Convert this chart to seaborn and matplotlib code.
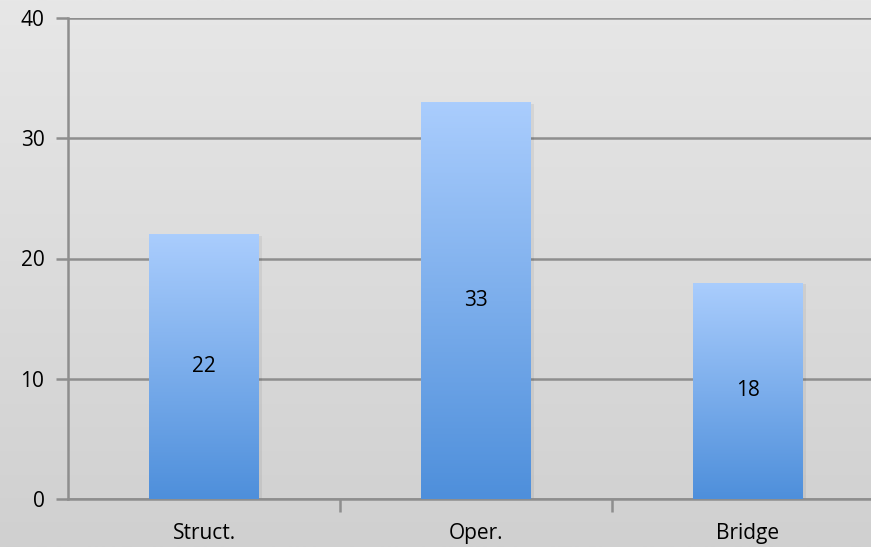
import numpy as np
import pandas as pd
import matplotlib
matplotlib.use("Agg")
import matplotlib.pyplot as plt
import seaborn as sns
from matplotlib.colors import LinearSegmentedColormap

categories = ["Struct.", "Oper.", "Bridge"]
values = [22, 33, 18]
y_ticks = [0, 10, 20, 30, 40]

sns.set_theme(style="white")
plt.rcParams['font.family'] = ['Open Sans', 'DejaVu Sans']

W, H = 871, 547
fig = plt.figure(figsize=(W / 100, H / 100), dpi=100)

# background gradient
bg = fig.add_axes([0, 0, 1, 1], zorder=-10)
bg_cmap = LinearSegmentedColormap.from_list("bg", ["#e7e7e7", "#d0d0d0"])
bg.imshow(np.linspace(0, 1, 256).reshape(-1, 1), aspect="auto", cmap=bg_cmap,
          extent=[0, 1, 0, 1], origin="upper")
bg.axis("off")

ax = fig.add_axes([68 / W, (H - 499) / H, (884 - 68) / W, (499 - 18) / H])
ax.patch.set_alpha(0)

df = pd.DataFrame({"cat": categories, "val": values})
sns.barplot(data=df, x="cat", y="val", ax=ax, width=0.404, color="#7aaeed",
            saturation=1, zorder=3)

ax.set_xlim(-0.5, 2.5)
ax.set_ylim(0, 40)
ax.set_yticks(y_ticks)
ax.set_xlabel("")
ax.set_ylabel("")

grad_cmap = LinearSegmentedColormap.from_list("bar", ["#4e8fdb", "#aacdfd"])
grad = np.linspace(0, 1, 256).reshape(-1, 1)
for p in ax.patches:
    x0, y0 = p.get_x(), p.get_y()
    w, h = p.get_width(), p.get_height()
    # shadow
    ax.add_patch(plt.Rectangle((x0 + 0.01, y0), w, h - 0.15, color="#000000",
                               alpha=0.06, zorder=2, lw=0))
    p.set_facecolor("none")
    p.set_edgecolor("none")
    im = ax.imshow(grad, aspect="auto", cmap=grad_cmap, origin="lower",
                   extent=[x0, x0 + w, y0, y0 + h], zorder=3)
    im.set_clip_path(p)
    ax.text(x0 + w / 2, y0 + h / 2, f"{int(h)}", ha="center", va="center",
            fontsize=15, color="#000000", zorder=5)

ax.set_xlim(-0.5, 2.5)
ax.set_ylim(0, 40)

ax.grid(axis="y", color="#8e8e8e", linewidth=1.8, zorder=0)
ax.set_axisbelow(True)
for s in ["top", "right"]:
    ax.spines[s].set_visible(False)
for s in ["left", "bottom"]:
    ax.spines[s].set_color("#8e8e8e")
    ax.spines[s].set_linewidth(1.8)

ax.tick_params(axis="y", length=9, width=1.8, color="#8e8e8e", labelsize=15,
               pad=8, left=True, labelcolor="#000000")
ax.set_xticks([0, 1, 2])
ax.set_xticklabels(categories)
ax.set_xticks([0.5, 1.5, 2.5], minor=True)
ax.tick_params(axis="x", which="major", length=0, labelsize=15, pad=17,
               labelcolor="#000000")
ax.tick_params(axis="x", which="minor", length=9, width=1.8, color="#8e8e8e",
               bottom=True)

fig.savefig("out.png", dpi=100)
